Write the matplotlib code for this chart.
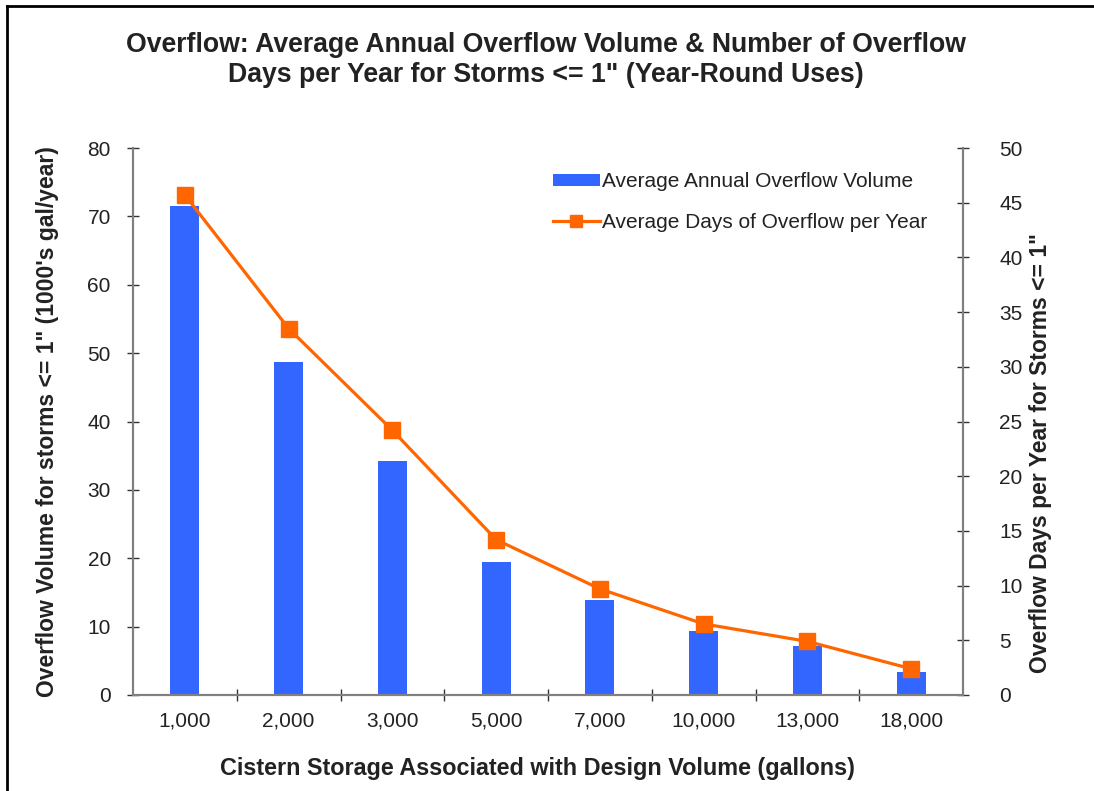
import matplotlib
matplotlib.use("Agg")
import matplotlib.pyplot as plt
from matplotlib.lines import Line2D
from matplotlib.patches import Patch
import numpy as np

categories = ["1,000", "2,000", "3,000", "5,000", "7,000", "10,000", "13,000", "18,000"]
overflow_volume = [71.5, 48.7, 34.2, 19.5, 13.9, 9.4, 7.1, 3.3]
overflow_days = [45.7, 33.5, 24.2, 14.2, 9.7, 6.5, 4.9, 2.4]
left_ticks = [0, 10, 20, 30, 40, 50, 60, 70, 80]
right_ticks = [0, 5, 10, 15, 20, 25, 30, 35, 40, 45, 50]

plt.rcParams['font.family'] = ['Liberation Sans', 'DejaVu Sans']

BLUE = "#3366FF"
ORANGE = "#FF6600"
GREY = "#808080"
TXT = "#222222"

W, H = 1094, 791
fig = plt.figure(figsize=(W / 100, H / 100), dpi=100)
x0, x1, y0, y1 = 133, 963, 695, 148
ax = fig.add_axes([x0 / W, 1 - y0 / H, (x1 - x0) / W, (y0 - y1) / H])
ax2 = ax.twinx()

x = np.arange(len(categories))
ax.bar(x, overflow_volume, width=0.28, color=BLUE, zorder=2)
ax2.plot(x, overflow_days, color=ORANGE, lw=2.3, marker='s', markersize=12,
         markerfacecolor=ORANGE, markeredgecolor=ORANGE, zorder=3)

ax.set_xlim(-0.5, len(categories) - 0.5)
ax.set_ylim(0, 80)
ax2.set_ylim(0, 50)
ax.set_yticks(left_ticks)
ax2.set_yticks(right_ticks)
ax.set_xticks(x)
ax.set_xticklabels(categories)
ax.set_xticks(np.arange(0.5, len(categories) - 0.5), minor=True)
ax.tick_params(axis='x', which='major', length=0, pad=12, labelsize=15, labelcolor=TXT)
ax.tick_params(axis='x', which='minor', length=8, direction='inout', color='#333333', width=1)
ax.tick_params(axis='y', length=8, direction='inout', width=1, color='#333333',
               labelsize=15, labelcolor=TXT, pad=12)
ax2.tick_params(axis='y', length=8, direction='inout', width=1, color='#333333',
                labelsize=15, labelcolor=TXT, pad=22)

for a in (ax, ax2):
    a.spines['top'].set_visible(False)
    for s in ('left', 'right', 'bottom'):
        a.spines[s].set_color(GREY)
        a.spines[s].set_linewidth(1.5)

LBL = 16.5
ax.set_ylabel("Overflow Volume for storms <= 1\" (1000's gal/year)", fontsize=LBL,
              fontweight='bold', color=TXT, ha='center', va='center')
ax.yaxis.set_label_coords((48 - x0) / (x1 - x0), 0.5)
ax2.set_ylabel("Overflow Days per Year for Storms <= 1\"", fontsize=LBL,
               fontweight='bold', color=TXT, ha='center', va='center')
ax2.yaxis.set_label_coords((1040 - x0) / (x1 - x0), (y0 - 453) / (y0 - y1))
ax.set_xlabel("Cistern Storage Associated with Design Volume (gallons)", fontsize=16.8,
              fontweight='bold', color=TXT, ha='center', va='center')
ax.xaxis.set_label_coords((537 - x0) / (x1 - x0), (y0 - 768) / (y0 - y1))

fig.text(546 / W, 1 - 60 / H, "Overflow: Average Annual Overflow Volume & Number of Overflow\n"
         "Days per Year for Storms <= 1\" (Year-Round Uses)",
         ha='center', va='center', fontsize=19.2, fontweight='bold', linespacing=1.22,
         color=TXT)

handles = [Patch(facecolor=BLUE, edgecolor='none'),
           Line2D([0], [0], color=ORANGE, lw=2.3, marker='s', markersize=8)]
ax2.legend(handles, ["Average Annual Overflow Volume", "Average Days of Overflow per Year"],
           loc='upper left', bbox_to_anchor=((553 - x0) / (x1 - x0), (y0 - 172) / (y0 - y1)),
           frameon=False, fontsize=15, borderpad=0, borderaxespad=0,
           handlelength=2.25, handleheight=0.5, handletextpad=0.1, labelspacing=1.05,
           labelcolor=TXT)

# frame border (top and left)
fig.add_artist(Line2D([7 / W, 7 / W], [0, 1 - 6 / H], transform=fig.transFigure,
                      color='black', lw=2))
fig.add_artist(Line2D([7 / W, 1], [1 - 6 / H, 1 - 6 / H], transform=fig.transFigure,
                      color='black', lw=2))

fig.savefig("out.png", dpi=100)
